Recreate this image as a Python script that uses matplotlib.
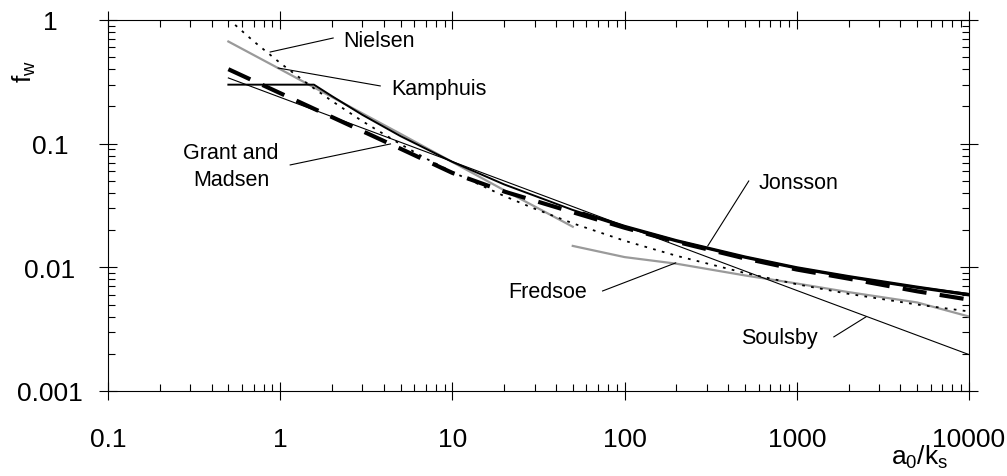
import matplotlib
matplotlib.use('Agg')
import matplotlib.pyplot as plt

plt.rcParams['font.family'] = ['Liberation Sans', 'DejaVu Sans']
plt.rcParams['mathtext.default'] = 'regular'

# wave friction factor curves
nielsen_x = [0.5, 0.7, 1, 1.5, 2, 3, 5, 7, 10, 20, 30, 50, 100, 200, 500, 1000, 2000, 5000, 10000]
nielsen_fw = [1.02, 0.674, 0.449, 0.293, 0.221, 0.152, 0.099, 0.076, 0.059, 0.0377, 0.0298,
              0.0227, 0.0164, 0.0124, 0.0090, 0.0073, 0.0061, 0.0050, 0.0044]

kamphuis_x = [0.5, 1, 2, 5, 10, 20, 50]
kamphuis_fw = [0.67, 0.40, 0.238, 0.12, 0.071, 0.042, 0.0213]

fredsoe_x = [50, 100, 200, 500, 1000, 2000, 5000, 10000]
fredsoe_fw = [0.0149, 0.0121, 0.0107, 0.0086, 0.0074, 0.0063, 0.0052, 0.0040]

soulsby_x = [0.5, 1, 10, 100, 1000, 10000]
soulsby_fw = [0.34, 0.237, 0.0716, 0.0216, 0.0065, 0.00197]

swart_x = [0.5, 1.57, 2, 3, 5, 10, 20, 50, 100, 200, 500, 1000, 2000, 5000, 10000]
swart_fw = [0.30, 0.30, 0.242, 0.171, 0.115, 0.0712, 0.0468, 0.0291, 0.0214, 0.0164,
            0.0121, 0.0099, 0.0084, 0.0069, 0.0061]

jonsson_x = [58, 100, 200, 500, 1000, 2000, 5000, 10000]
jonsson_fw = [0.0272, 0.0214, 0.0164, 0.0121, 0.0099, 0.0084, 0.0069, 0.0060]

grant_x = [0.5, 1, 2, 5, 10, 20, 50, 100, 200, 500, 1000, 2000, 5000, 10000]
grant_fw = [0.40, 0.256, 0.164, 0.091, 0.058, 0.041, 0.0279, 0.0209, 0.0161, 0.0118,
            0.0096, 0.0081, 0.0064, 0.00548]

x_ticks = [0.1, 1, 10, 100, 1000, 10000]
x_labels = ['0.1', '1', '10', '100', '1000', '10000']
y_ticks = [0.001, 0.01, 0.1, 1]
y_labels = ['0.001', '0.01', '0.1', '1']

fig = plt.figure(figsize=(10.07, 4.77), dpi=100)
ax = fig.add_axes([108 / 1007, 85 / 477, 861 / 1007, 371 / 477])

grey = '#9a9a9a'
ax.plot(kamphuis_x, kamphuis_fw, color=grey, lw=1.6)
ax.plot(fredsoe_x, fredsoe_fw, color=grey, lw=1.6)
ax.plot(soulsby_x, soulsby_fw, color='black', lw=0.8)
ax.plot(swart_x, swart_fw, color='black', lw=1.4)
ax.plot(jonsson_x, jonsson_fw, color='black', lw=2.4)
ax.plot(grant_x, grant_fw, color='black', lw=3.0, dashes=(5.8, 3.2))
ax.plot(nielsen_x, nielsen_fw, color='black', lw=1.3, dashes=(1.5, 3.5))

# labels with leader lines
labels = [
    ('Nielsen', 2.32, 0.62, [2.03, 0.875], [0.715, 0.551]),
    ('Kamphuis', 4.40, 0.252, [3.81, 0.973], [0.293, 0.409]),
    ('Jonsson', 601, 0.0438, [526, 304], [0.0499, 0.0149]),
    ('Fredsoe', 21.2, 0.00576, [74.5, 198], [0.00644, 0.01086]),
    ('Soulsby', 472, 0.00245, [1641, 2518], [0.00274, 0.00397]),
]
for name, tx, ty, lx, ly in labels:
    ax.plot(lx, ly, color='black', lw=0.8)
    ax.text(tx, ty, name, fontsize=15.5, ha='left', va='baseline')

ax.text(0.519, 0.0766, 'Grant and', fontsize=15.5, ha='center', va='baseline')
ax.text(0.519, 0.0464, 'Madsen', fontsize=15.5, ha='center', va='baseline')
ax.plot([1.143, 4.37], [0.0673, 0.0995], color='black', lw=0.8)

ax.set_xscale('log')
ax.set_yscale('log')
ax.set_xlim(0.1, 10000)
ax.set_ylim(0.001, 1)

ax.set_xticks(x_ticks)
ax.set_xticklabels(x_labels)
ax.set_yticks(y_ticks)
ax.set_yticklabels(y_labels, ha='center')

ax.tick_params(which='major', direction='inout', length=13, width=0.8,
               top=True, right=True, labelsize=19)
ax.tick_params(which='minor', direction='in', length=5, width=0.8, top=True, right=True)
ax.tick_params(axis='x', which='major', pad=19.5)
ax.tick_params(axis='y', which='major', pad=35.3)

for sp in ax.spines.values():
    sp.set_linewidth(0.8)

fig.text(920 / 1007, 1 - 457 / 477, 'a$_0$/k$_s$', fontsize=19, ha='center', va='center')
fig.text(24 / 1007, 1 - 72 / 477, 'f$_w$', fontsize=19, ha='center', va='center', rotation=90)

fig.savefig('out.png', dpi=100)
